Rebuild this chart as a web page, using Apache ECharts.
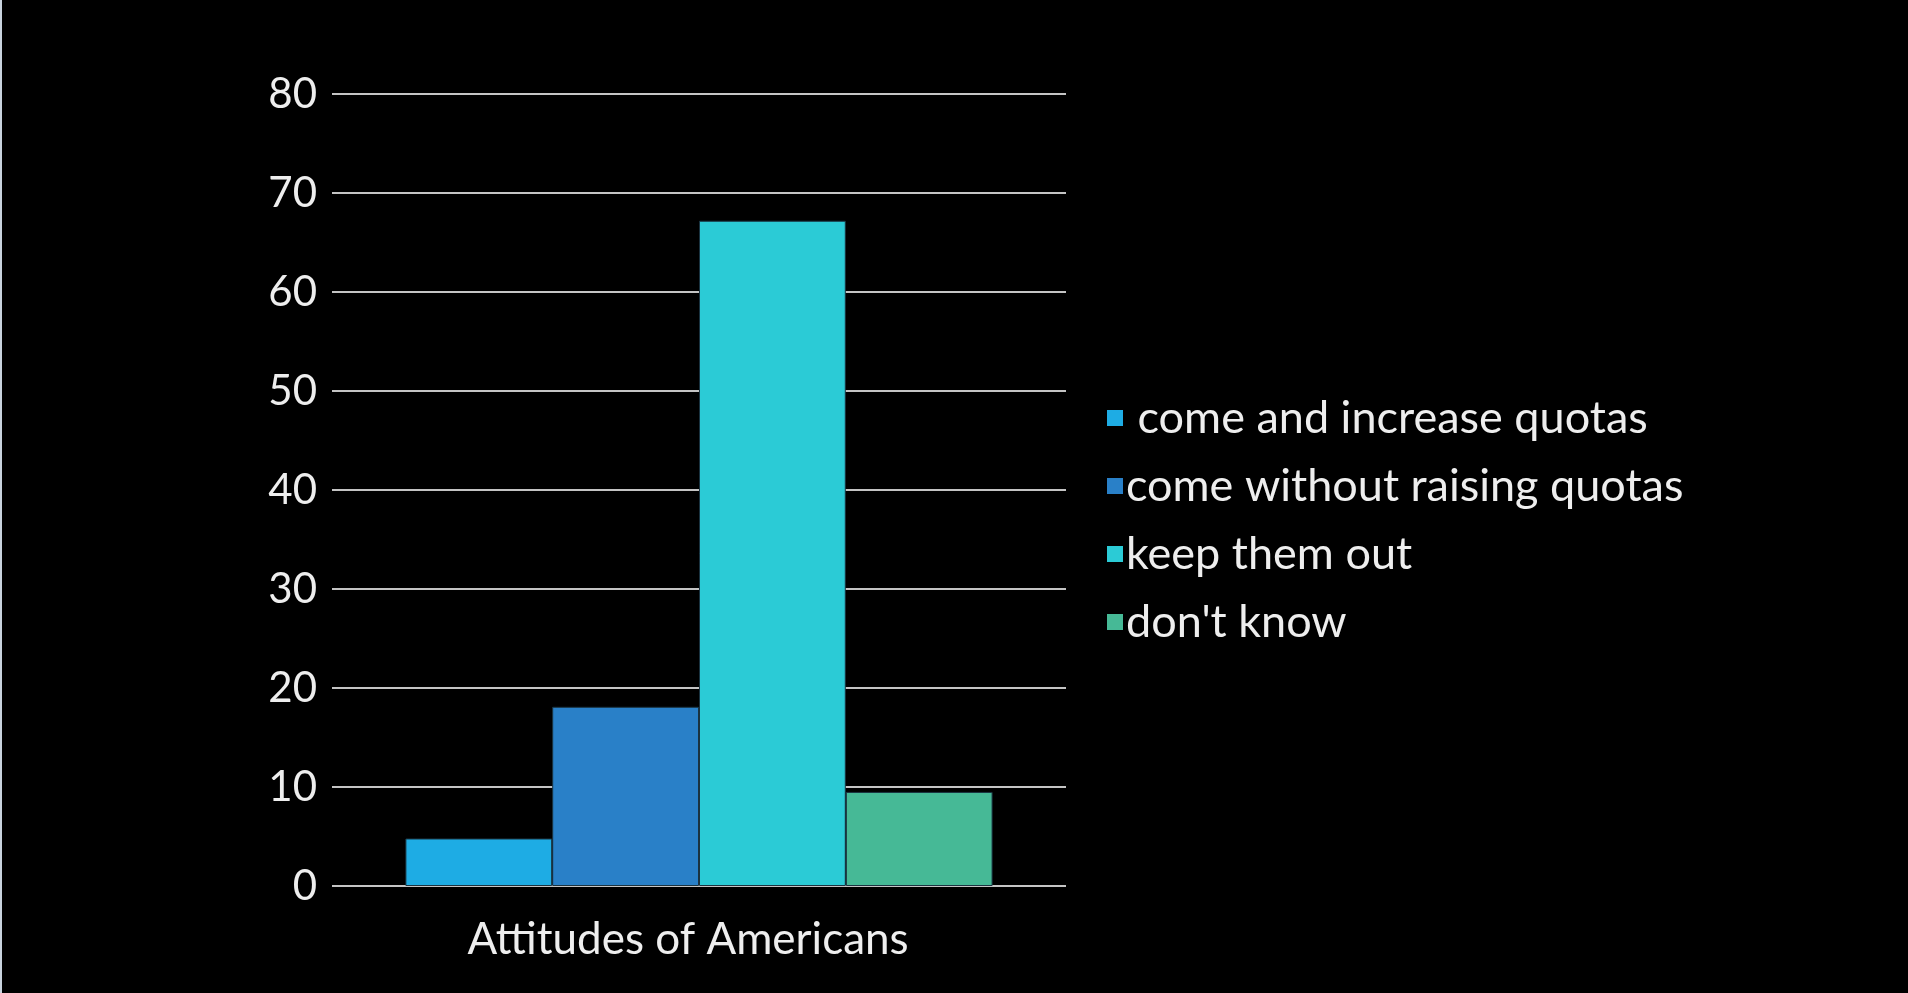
<!DOCTYPE html>
<html>
<head>
<meta charset="utf-8">
<script src="https://cdn.jsdelivr.net/npm/echarts@6/dist/echarts.min.js"></script>
<style>
  html, body { margin: 0; padding: 0; background: #000; }
  #chart { width: 1908px; height: 993px; box-sizing: border-box; border-left: 2px solid #c9d3de; }
</style>
</head>
<body>
<div id="chart"></div>
<script>
const categories = ['Attitudes of Americans'];
const seriesNames = [' come and increase quotas', 'come without raising quotas', 'keep them out', "don't know"];
const seriesValues = [[4.8], [18.1], [67.2], [9.5]];
const seriesColors = ['#1eace4', '#2980c8', '#2bcbd6', '#46b996'];
const yTicks = { min: 0, max: 80, interval: 10 };

const FONT = 'Lato';
const chart = echarts.init(document.getElementById('chart'));

chart.setOption({
  backgroundColor: '#000',
  animation: false,
  grid: { left: 330, right: 842, top: 94, bottom: 107 },
  legend: {
    orient: 'vertical',
    left: 1100,
    top: 388,
    itemWidth: 16,
    itemHeight: 16,
    itemGap: 18,
    icon: 'rect',
    itemStyle: { borderWidth: 0 },
    textStyle: { color: '#eeeeee', fontFamily: FONT, fontSize: 45, lineHeight: 50, padding: [0, 0, 0, -2] },
    data: seriesNames
  },
  xAxis: {
    type: 'category', data: categories,
    axisLine: { show: false }, axisTick: { show: false },
    axisLabel: { color: '#eeeeee', fontFamily: FONT, fontSize: 44, margin: 32, padding: [0, 22, 0, 0] }
  },
  yAxis: {
    type: 'value', min: yTicks.min, max: yTicks.max, interval: yTicks.interval,
    axisLine: { show: false }, axisTick: { show: false },
    axisLabel: { color: '#eeeeee', fontFamily: FONT, fontSize: 42, margin: 15 },
    splitLine: { lineStyle: { color: '#c4c4c4', width: 2 } }
  },
  series: seriesNames.map((name, i) => ({
    name: name,
    type: 'bar',
    data: seriesValues[i],
    barGap: '0%',
    barCategoryGap: '20%',
    itemStyle: { color: seriesColors[i], borderColor: '#1a3340', borderWidth: 1 }
  }))
});
</script>
</body>
</html>
